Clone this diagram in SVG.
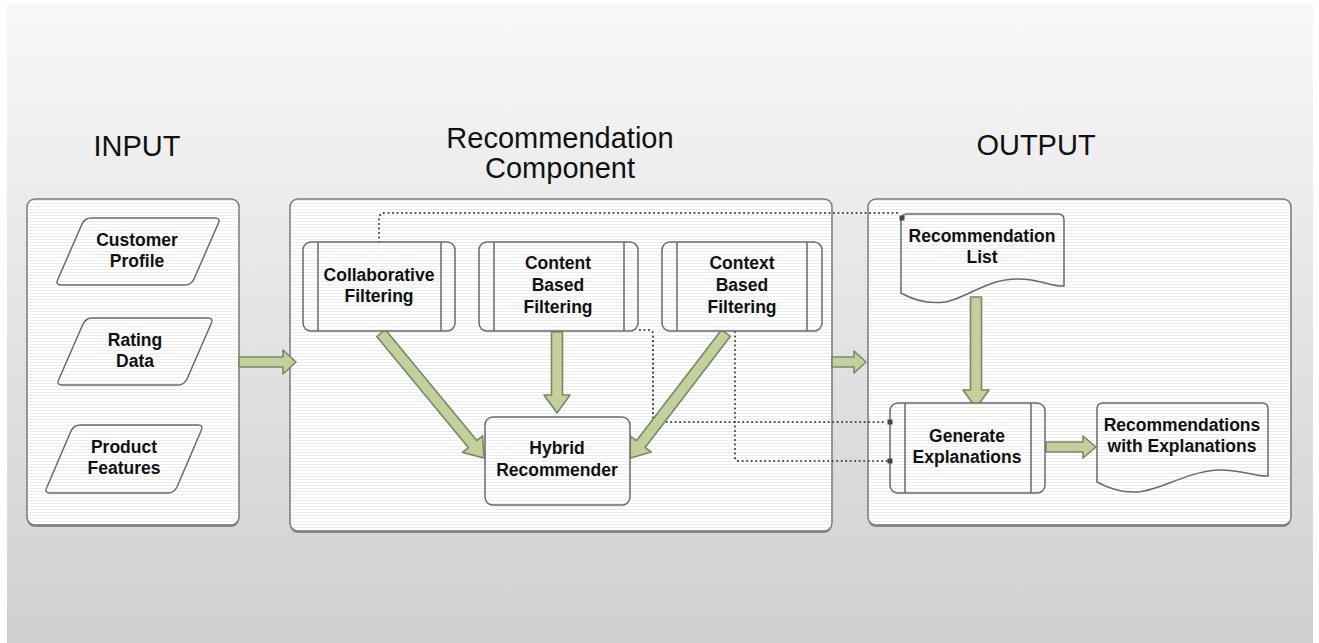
<svg xmlns="http://www.w3.org/2000/svg" width="1319" height="643" viewBox="0 0 1319 643">
<defs>
<linearGradient id="bg" x1="0" y1="0" x2="0" y2="1">
<stop offset="0" stop-color="#f8f8f8"/>
<stop offset="1" stop-color="#d0d0d0"/>
</linearGradient>
<pattern id="stripes" x="0" y="0" width="6" height="3" patternUnits="userSpaceOnUse">
<rect width="6" height="3" fill="#ffffff"/>
<rect y="2" width="6" height="1" fill="#ececec"/>
</pattern>
<style>
.panel{fill:url(#stripes);stroke:#7a7a7a;stroke-width:1.5}
.shadow{fill:#8a8a8a}
.node{fill:url(#stripes);stroke:#6a6a6a;stroke-width:1.5}
.inner{stroke:#6a6a6a;stroke-width:1.5;fill:none}
.title{font-family:"Liberation Sans",Arial,sans-serif;font-size:29px;fill:#111;text-anchor:middle}
.lbl{font-family:"Liberation Sans",Arial,sans-serif;font-size:17.5px;font-weight:bold;fill:#111;text-anchor:middle}
.fat{fill:#c4d09c;stroke:#7c8668;stroke-width:1.6;stroke-linejoin:round}
.dot{fill:none;stroke:#444;stroke-width:2.2;stroke-dasharray:0 4.5;stroke-linecap:round}
.mk{fill:#444}
</style>
</defs>
<rect x="7" y="4" width="1306" height="639" fill="url(#bg)"/>

<g id="titles">
<text class="title" x="137" y="156" font-size="28">INPUT</text>
<text class="title" x="560" y="148">Recommendation</text>
<text class="title" x="560" y="178">Component</text>
<text class="title" x="1036" y="155" font-size="28">OUTPUT</text>
</g>

<g id="panel-input">
<rect class="shadow" x="27" y="201" width="212" height="326" rx="8"/>
<rect class="panel" x="27" y="199" width="212" height="326" rx="8"/>
</g>
<g id="panel-recommendation">
<rect class="shadow" x="290" y="201" width="542" height="332" rx="8"/>
<rect class="panel" x="290" y="199" width="542" height="332" rx="8"/>
</g>
<g id="panel-output">
<rect class="shadow" x="868" y="201" width="423" height="326" rx="8"/>
<rect class="panel" x="868" y="199" width="423" height="326" rx="8"/>
</g>

<g id="connectors">
<path class="dot" d="M379,242 V219 Q379,213 385,213 H898"/>
<path class="dot" d="M640,330 H649 Q653,330 653,334 V422 H887"/>
<path class="dot" d="M735,332 V457 Q735,461 739,461 H887"/>
<path class="fat" transform="translate(239,362)" d="M0,-5 H44 V-12 L57,0 L44,12 V5 H0 Z"/>
<path class="fat" transform="translate(832,362)" d="M0,-5 H22 V-11 L34,0 L22,11 V5 H0 Z"/>
<path class="fat" transform="translate(381,333) rotate(50.5)" d="M0,-5.5 H144 V-13 L162,0 L144,13 V5.5 H0 Z"/>
<path class="fat" transform="translate(557,332) rotate(90)" d="M0,-5.5 H63 V-13 L81,0 L63,13 V5.5 H0 Z"/>
<path class="fat" transform="translate(726,333) rotate(127.5)" d="M0,-5.5 H140 V-13 L158,0 L140,13 V5.5 H0 Z"/>
<path class="fat" transform="translate(976,297) rotate(90)" d="M0,-5.5 H93 V-13 L111,0 L93,13 V5.5 H0 Z"/>
<path class="fat" transform="translate(1046,447)" d="M0,-5 H37 V-11 L50,0 L37,11 V5 H0 Z"/>
</g>

<g id="customer-profile">
<path class="node" d="M91,218 H215 Q221,218 218,224 L194,279 Q191,285 185,285 H61 Q55,285 58,279 L82,224 Q85,218 91,218 Z"/>
<text class="lbl" x="137" y="246">Customer</text>
<text class="lbl" x="137" y="267">Profile</text>
</g>
<g id="rating-data">
<path class="node" d="M92,318 H208 Q214,318 211,324 L187,379 Q184,385 178,385 H62 Q56,385 59,379 L83,324 Q86,318 92,318 Z"/>
<text class="lbl" x="135" y="346">Rating</text>
<text class="lbl" x="135" y="367">Data</text>
</g>
<g id="product-features">
<path class="node" d="M80,425 H198 Q204,425 201,431 L177,487 Q174,493 168,493 H50 Q44,493 47,487 L71,431 Q74,425 80,425 Z"/>
<text class="lbl" x="124" y="453">Product</text>
<text class="lbl" x="124" y="474">Features</text>
</g>

<g id="collaborative-filtering">
<rect class="node" x="303" y="242" width="152" height="89" rx="8"/>
<path class="inner" d="M318,242 V331 M441,242 V331"/>
<text class="lbl" x="379" y="281">Collaborative</text>
<text class="lbl" x="379" y="302">Filtering</text>
</g>
<g id="content-based-filtering">
<rect class="node" x="479" y="242" width="159" height="89" rx="8"/>
<path class="inner" d="M494,242 V331 M624,242 V331"/>
<text class="lbl" x="558" y="269">Content</text>
<text class="lbl" x="558" y="291">Based</text>
<text class="lbl" x="558" y="313">Filtering</text>
</g>
<g id="context-based-filtering">
<rect class="node" x="662" y="242" width="160" height="89" rx="8"/>
<path class="inner" d="M677,242 V331 M807,242 V331"/>
<text class="lbl" x="742" y="269">Context</text>
<text class="lbl" x="742" y="291">Based</text>
<text class="lbl" x="742" y="313">Filtering</text>
</g>
<g id="hybrid-recommender">
<rect class="node" x="485" y="417" width="145" height="88" rx="8"/>
<text class="lbl" x="557" y="454">Hybrid</text>
<text class="lbl" x="557" y="476">Recommender</text>
</g>

<g id="recommendation-list">
<path class="node" d="M901,220 Q901,214 907,214 H1058 Q1064,214 1064,220 V286 C1050,287 1040,278 1015,279 C985,280 965,299 945,302 C930,304 915,301 901,293 Z"/>
<rect class="mk" x="899.5" y="215.5" width="5" height="5"/>
<text class="lbl" x="982" y="242">Recommendation</text>
<text class="lbl" x="982" y="263">List</text>
</g>
<g id="generate-explanations">
<rect class="node" x="890" y="403" width="155" height="90" rx="8"/>
<path class="inner" d="M905,403 V493 M1031,403 V493"/>
<rect class="mk" x="887.5" y="419.5" width="5" height="5"/>
<rect class="mk" x="887.5" y="458.5" width="5" height="5"/>
<text class="lbl" x="967" y="442">Generate</text>
<text class="lbl" x="967" y="463">Explanations</text>
</g>
<g id="recommendations-with-explanations">
<path class="node" d="M1097,409 Q1097,403 1103,403 H1262 Q1268,403 1268,409 V476 C1255,477 1240,469 1218,470 C1185,472 1160,491 1137,492 C1120,493 1108,488 1097,482 Z"/>
<text class="lbl" x="1182" y="431">Recommendations</text>
<text class="lbl" x="1182" y="452">with Explanations</text>
</g>
</svg>
